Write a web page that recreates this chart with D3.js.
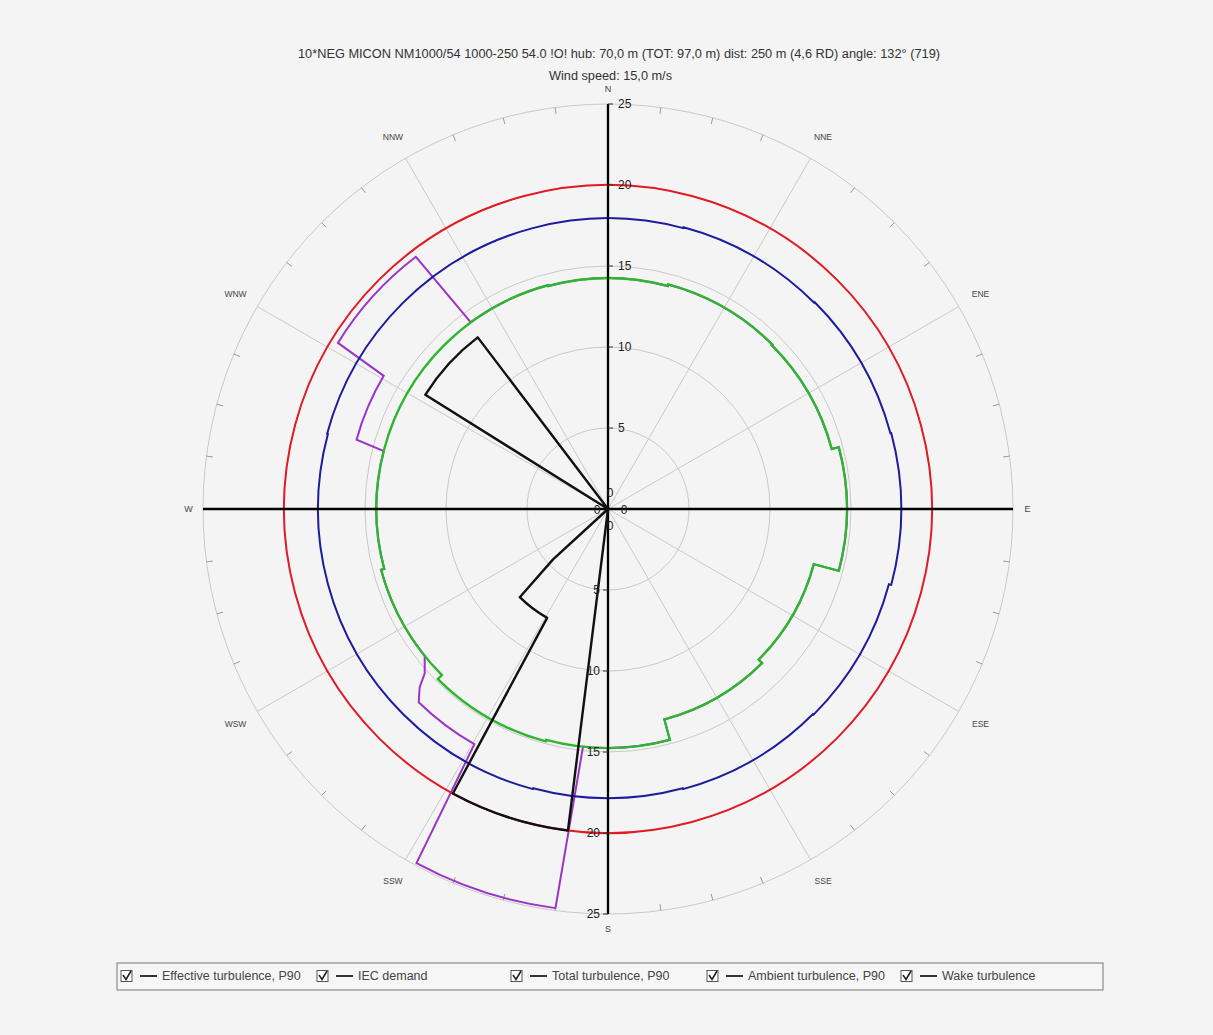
<!DOCTYPE html>
<html>
<head>
<meta charset="utf-8">
<script src="https://cdn.jsdelivr.net/npm/d3@7"></script>
<style>
  html, body { margin: 0; padding: 0; background: #f4f4f4; }
  svg { display: block; font-family: "Liberation Sans", Arial, sans-serif; }
</style>
</head>
<body>
<svg id="chart" width="1213" height="1035"></svg>
<script>
// ---------------- DATA ----------------
const titleLine1 = "10*NEG MICON NM1000/54 1000-250 54.0 !O! hub: 70,0 m (TOT: 97,0 m)  dist: 250 m (4,6 RD) angle: 132° (719)";
const titleLine2 = "Wind speed: 15,0 m/s";

const sectorNames = ["N", "NNE", "ENE", "E", "ESE", "SSE", "S", "SSW", "WSW", "W", "WNW", "NNW"];
const sectorCentres = [0, 30, 60, 90, 120, 150, 180, 210, 240, 270, 300, 330];
const radialTicks = [5, 10, 15, 20, 25];

// per-sector values (12 sectors of 30°, centred on the names above)
const iecDemand = [20, 20, 20, 20, 20, 20, 20, 20, 20, 20, 20, 20];
const totalTurbulence = [17.95, 18.0, 18.05, 18.1, 17.95, 17.9, 17.85, 17.9, 17.9, 17.9, 17.95, 17.95];
const ambientTurbulence = [14.25, 14.35, 14.3, 14.75, 13.15, 13.45, 14.75, 14.85, 14.5, 14.3, 14.3, 14.3];

// [start bearing, end bearing, value]
const effectiveTurbulence = [
  [-15, 15, 14.25], [15, 45, 14.35], [45, 75, 14.3], [75, 105, 14.75],
  [105, 135, 13.15], [135, 165, 13.45], [165, 186, 14.75],
  [187.5, 208.4, 24.85], [209.6, 224.4, 16.7], [226.6, 226.6, 16.0],
  [228.1, 228.1, 15.2], [231.3, 255, 14.5], [255, 284.5, 14.3],
  [285.4, 300.7, 16.1], [301.6, 322.7, 19.57], [323.7, 345, 14.3]
];
const wakeTurbulence = [
  [0, 186.5, 0], [187.1, 208.6, 20], [209.2, 225, 7.7], [227.5, 227.5, 4.6],
  [228, 301.5, 0], [302, 322.8, 13.3], [323.5, 360, 0]
];

const legendItems = ["Effective turbulence, P90", "IEC demand", "Total turbulence, P90", "Ambient turbulence, P90", "Wake turbulence"];
const legendX = [120, 316, 510, 706, 900];

// ---------------- DRAW ----------------
const svg = d3.select("#chart");
const cx = 608, cy = 509;
const r = d3.scaleLinear().domain([0, 25]).range([0, 405]);
const rad = d => d * Math.PI / 180;
function pt(b, v) { const a = rad(b - 90); return [cx + r(v) * Math.cos(a), cy + r(v) * Math.sin(a)]; }

function segPath(segs) {
  const p = d3.path();
  segs.forEach((s, i) => {
    const [a0, a1, v] = s;
    const [x, y] = pt(a0, v);
    if (i === 0) p.moveTo(x, y); else p.lineTo(x, y);
    if (a1 > a0 && v > 0) p.arc(cx, cy, r(v), rad(a0 - 90), rad(a1 - 90), false);
  });
  p.closePath();
  return p.toString();
}
function sectorSegs(vals) {
  return vals.map((v, i) => [sectorCentres[i] - 15, sectorCentres[i] + 15, v]);
}

// title
svg.append("text").attr("x", 298).attr("y", 58)
  .attr("font-size", 12).attr("fill", "#333")
  .attr("textLength", 642).attr("lengthAdjust", "spacingAndGlyphs").text(titleLine1);
svg.append("text").attr("x", 549).attr("y", 80)
  .attr("font-size", 12).attr("fill", "#333")
  .attr("textLength", 123).attr("lengthAdjust", "spacingAndGlyphs").text(titleLine2);

const grid = svg.append("g");
grid.selectAll("circle").data(radialTicks).join("circle")
  .attr("cx", cx).attr("cy", cy).attr("r", d => r(d))
  .attr("fill", "none").attr("stroke", "#c9c9c9").attr("stroke-width", 1);
grid.selectAll("line.rad").data(sectorCentres).join("line").attr("class", "rad")
  .attr("x1", cx).attr("y1", cy)
  .attr("x2", d => pt(d, 25)[0]).attr("y2", d => pt(d, 25)[1])
  .attr("stroke", "#c9c9c9").attr("stroke-width", 1);
const minor = d3.range(0, 360, 7.5).filter(d => d % 30 !== 0);
grid.selectAll("line.mt").data(minor).join("line").attr("class", "mt")
  .attr("x1", d => pt(d, 25)[0]).attr("y1", d => pt(d, 25)[1])
  .attr("x2", d => pt(d, 24.6)[0]).attr("y2", d => pt(d, 24.6)[1])
  .attr("stroke", "#999").attr("stroke-width", 1);

// direction labels
svg.selectAll("text.dir").data(sectorCentres).join("text").attr("class", "dir")
  .attr("x", (d) => { const rr = d % 90 === 0 ? 25.9 : 26.55; return pt(d, rr)[0]; })
  .attr("y", (d) => { const rr = d % 90 === 0 ? 25.9 : 26.55; return pt(d, rr)[1]; })
  .attr("text-anchor", "middle").attr("dominant-baseline", "central")
  .attr("font-size", d => d % 90 === 0 ? 9 : 8.5).attr("fill", "#444")
  .text((d, i) => sectorNames[i]);

// series
svg.append("path").attr("d", segPath(effectiveTurbulence)).attr("fill", "none")
  .attr("stroke", "#9a35c8").attr("stroke-width", 2);
svg.append("path").attr("d", segPath(sectorSegs(iecDemand))).attr("fill", "none")
  .attr("stroke", "#e01b24").attr("stroke-width", 2);
svg.append("path").attr("d", segPath(sectorSegs(totalTurbulence))).attr("fill", "none")
  .attr("stroke", "#1c1c9c").attr("stroke-width", 2);
svg.append("path").attr("d", segPath(sectorSegs(ambientTurbulence))).attr("fill", "none")
  .attr("stroke", "#2fb52f").attr("stroke-width", 2.4);

// axes
svg.append("line").attr("x1", cx - r(25)).attr("x2", cx + r(25)).attr("y1", cy).attr("y2", cy)
  .attr("stroke", "#000").attr("stroke-width", 2.3);
svg.append("line").attr("x1", cx).attr("x2", cx).attr("y1", cy - r(25)).attr("y2", cy + r(25))
  .attr("stroke", "#000").attr("stroke-width", 2.3);

svg.append("path").attr("d", segPath(wakeTurbulence)).attr("fill", "none")
  .attr("stroke", "#111").attr("stroke-width", 2.4).attr("stroke-linejoin", "round");

// axis ticks and labels
const ax = svg.append("g").attr("font-size", 12).attr("fill", "#222");
radialTicks.forEach(v => {
  ax.append("line").attr("x1", cx).attr("x2", cx + 5).attr("y1", cy - r(v)).attr("y2", cy - r(v)).attr("stroke", "#333");
  ax.append("text").attr("x", cx + 10).attr("y", cy - r(v)).attr("dominant-baseline", "central").text(v);
  ax.append("line").attr("x1", cx - 5).attr("x2", cx).attr("y1", cy + r(v)).attr("y2", cy + r(v)).attr("stroke", "#333");
  ax.append("text").attr("x", cx - 8).attr("y", cy + r(v)).attr("text-anchor", "end").attr("dominant-baseline", "central").text(v);
});
ax.append("text").attr("x", cx + 2).attr("y", cy - 16).attr("text-anchor", "middle").attr("dominant-baseline", "central").text(0);
ax.append("text").attr("x", cx + 2).attr("y", cy + 17).attr("text-anchor", "middle").attr("dominant-baseline", "central").text(0);
ax.append("text").attr("x", cx - 11).attr("y", cy + 1).attr("text-anchor", "middle").attr("dominant-baseline", "central").text(0);
ax.append("text").attr("x", cx + 16).attr("y", cy + 1).attr("text-anchor", "middle").attr("dominant-baseline", "central").text(0);

// legend
const lg = svg.append("g");
lg.append("rect").attr("x", 117).attr("y", 963).attr("width", 986).attr("height", 27)
  .attr("fill", "#f6f6f6").attr("stroke", "#777").attr("stroke-width", 1);
legendItems.forEach((t, i) => {
  const x = legendX[i];
  lg.append("rect").attr("x", x + 1).attr("y", 970.5).attr("width", 11).attr("height", 11)
    .attr("fill", "#fff").attr("stroke", "#555");
  lg.append("path").attr("d", `M${x + 3},${975} L${x + 6},${979.5} L${x + 11},${971}`)
    .attr("fill", "none").attr("stroke", "#222").attr("stroke-width", 1.6);
  lg.append("line").attr("x1", x + 20).attr("x2", x + 37).attr("y1", 976).attr("y2", 976)
    .attr("stroke", "#333").attr("stroke-width", 2);
  lg.append("text").attr("x", x + 42).attr("y", 976).attr("dominant-baseline", "central")
    .attr("font-size", 12.5).attr("fill", "#444").text(t);
});
</script>
</body>
</html>
